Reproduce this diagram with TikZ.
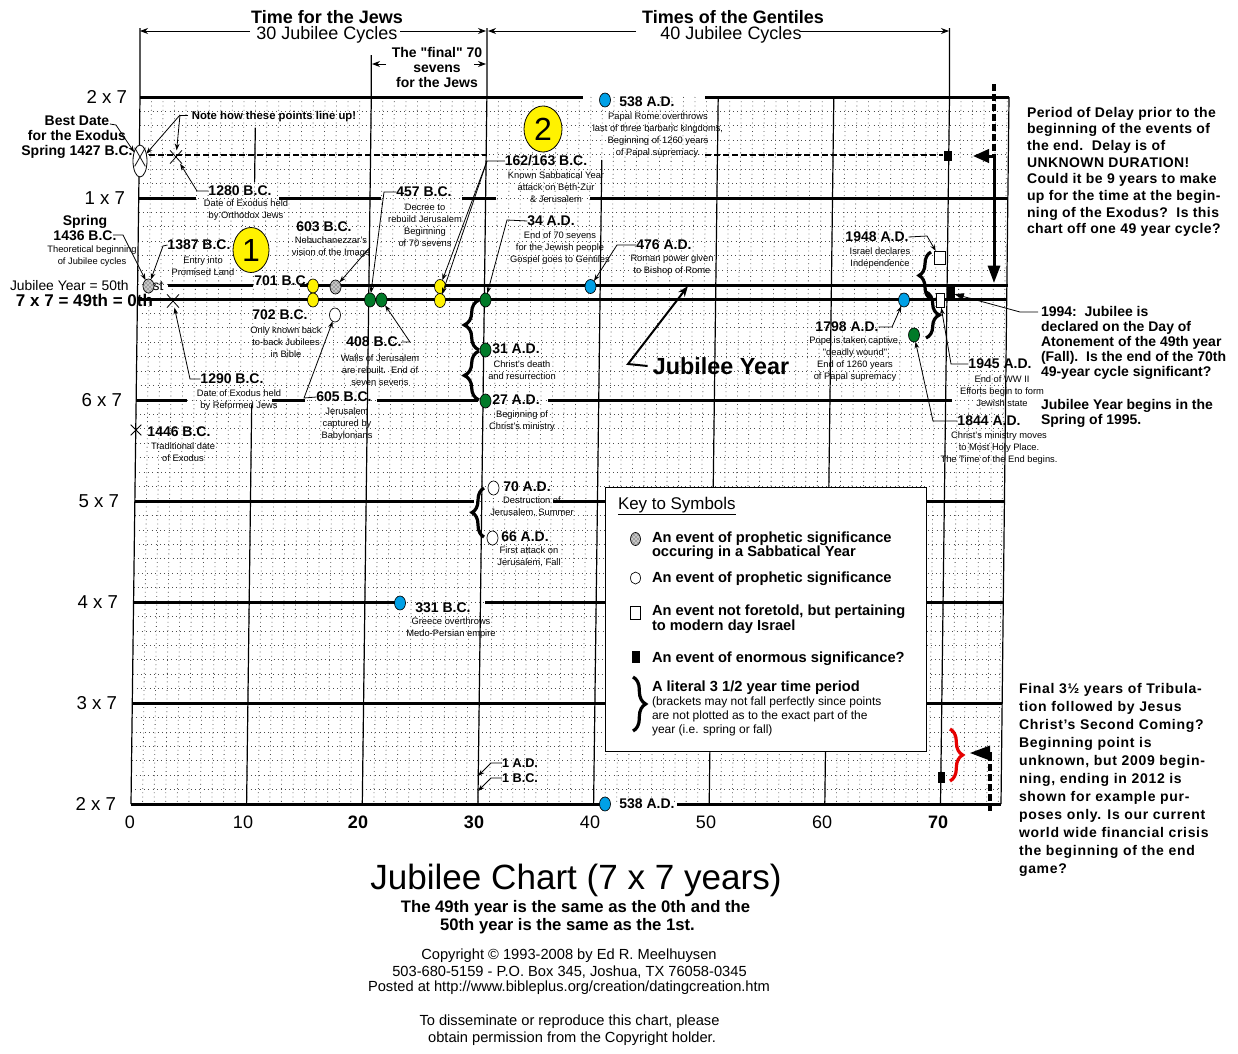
\documentclass[tikz,border=0pt]{standalone}
\usepackage{fontspec}
\setmainfont{Liberation Sans}
\usetikzlibrary{arrows.meta,decorations.pathreplacing,shapes.geometric,shapes.misc,patterns}
\definecolor{jcgreen}{RGB}{0,122,40}
\definecolor{jcblue}{RGB}{0,160,230}
\definecolor{jcred}{RGB}{230,0,0}
\newcommand\jcB{\fontsize{10.5}{12}\selectfont\bfseries}
\newcommand\jcS{\fontsize{7}{9}\selectfont}
\begin{document}
\begin{tikzpicture}[x=0.75pt,y=-0.75pt,
  every node/.style={inner sep=0pt, outer sep=0pt},
  lbl/.style={font=\jcB},
  dsc/.style={font=\jcS, align=center},
  gridd/.style={line width=0.6pt, dash pattern=on 0.6pt off 2.6pt, black!70},
  majv/.style={line width=0.9pt},
  majh/.style={line width=2.25pt},
  mk/.style={ellipse, draw, line width=0.5pt, minimum width=8.25pt, minimum height=10.5pt},
  yel/.style={mk, fill=yellow},
  grn/.style={mk, fill=jcgreen},
  blu/.style={mk, fill=jcblue},
  opn/.style={mk, fill=white},
  hat/.style={mk, preaction={fill=black!22}, pattern=crosshatch dots, pattern color=black!85},
  xm/.style={cross out, draw, line width=0.6pt, minimum width=9pt, minimum height=10pt},
  osq/.style={rectangle, draw, fill=white, line width=0.6pt},
  bsq/.style={rectangle, fill=black},
  lead/.style={line width=0.6pt, -{Stealth[length=5pt,width=3.5pt]}},
  hdr/.style={line width=0.75pt, -{Stealth[length=6pt,width=4.5pt]}},
  brc/.style={decorate, decoration={brace, amplitude=#1}, line width=2.4pt},
  brc/.default=10pt,
  rtxt/.style={align=left, anchor=north west},
  axl/.style={font=\fontsize{14}{16}\selectfont, anchor=east},
  axn/.style={font=\fontsize{13.5}{16}\selectfont},
  axb/.style={font=\fontsize{13.5}{16}\selectfont\bfseries},
  keyt/.style={font=\fontsize{11}{10.8}\selectfont\bfseries, align=left, anchor=west},
]
\fill[white] (0,0) rectangle (1238,1053);
\useasboundingbox (0,0) rectangle (1238,1053);
% ---------- grid ----------
\foreach \i in {1,...,75}{\draw[gridd] ({140+11.564*\i},97) -- ({131+11.564*\i},804);}
\foreach \j in {1,...,48}{\draw[gridd] ({140-0.1837*\j},{97+14.43*\j}) -- ({1009-0.1633*\j},{97+14.43*\j});}
\draw[majv] (140,28) -- (140,97) -- (131,804);
\draw[majv] (255.3,128) -- (254.6,182);
\draw[majv] (251.7,405) -- (246.6,804);
\draw[majv] (371.3,55) -- (371.3,97) -- (362.3,804);
\draw[majv] (486.9,28) -- (486.9,97) -- (477.9,804);
\draw[majv] (601.8,160) -- (593.6,804);
\draw[majv] (718.2,97) -- (709.2,804);
\draw[majv] (833.8,97) -- (824.8,804);
\draw[majv] (949.5,28) -- (949.5,97) -- (940.5,804);
\draw[majv] (1009,97) -- (1001,804);
\draw[majh] (140,97) -- (583,97) (705,97) -- (1009,97);
\draw[majh] (139,198) -- (196,198) (279,198) -- (381,198) (462,198) -- (496,198) (590,198) -- (1008,198);
\draw[majh] (168,285) -- (253,285) (300,285) -- (1008,285);
\draw[majh] (137,299) -- (1007,299);
\draw[majh] (136,400) -- (187,400) (272,400) -- (305,400) (377,400) -- (478,400) (548,400) -- (952,400);
\draw[majh] (135,501) -- (474,501) (553,501) -- (605,501) (926,501) -- (1004,501);
\draw[majh] (134,602) -- (395,602) (485,602) -- (605,602) (926,602) -- (1003,602);
\draw[majh] (133,703) -- (605,703) (926,703) -- (1002,703);
\draw[majh] (131,804) -- (600,804) (677,804) -- (1001,804);
\draw[line width=1.6pt, dash pattern=on 4.5pt off 2.25pt] (140,155) -- (487,155) (705,155) -- (943,155);
% ---------- key box ----------
\node[draw, fill=white, line width=0.75pt, minimum width=240.75pt, minimum height=198pt, anchor=north west] (key) at (605,487) {};
% ---------- header ----------
\node[font=\fontsize{13.5}{16}\selectfont\bfseries] (h1) at (327,17) {Time for the Jews};
\node[font=\fontsize{13.5}{16}\selectfont] (h2) at (327,35) {30 Jubilee Cycles};
\node[font=\fontsize{13.5}{16}\selectfont\bfseries] (h3) at (733,17) {Times of the Gentiles};
\node[font=\fontsize{13.5}{16}\selectfont] (h4) at (731,35) {40 Jubilee Cycles};
\node[font=\fontsize{10.5}{11.25}\selectfont\bfseries, align=center] (h5) at (437,67) {The \textquotedbl final\textquotedbl\ 70\\sevens\\for the Jews};
\coordinate (hA) at (140,31); \coordinate (hB) at (486,31); \coordinate (hC) at (488,31); \coordinate (hD) at (949,31);
\coordinate (hE) at (372,64); \coordinate (hF) at (486,64);
\draw[hdr] (250,31) -- (hA);
\draw[hdr] (400,31) -- (hB);
\draw[hdr] (636,31) -- (hC);
\draw[hdr] (800,31) -- (hD);
\draw[hdr] (386,64) -- (hE);
\draw[hdr] (474,64) -- (hF);
% ---------- axes ----------
\node[axl] (a1) at (127,97) {2 x 7};
\node[axl] (a2) at (125,198) {1 x 7};
\node[axl] (a3) at (122,400) {6 x 7};
\node[axl] (a4) at (119,501) {5 x 7};
\node[axl] (a5) at (118,602) {4 x 7};
\node[axl] (a6) at (117,703) {3 x 7};
\node[axl] (a7) at (116,804) {2 x 7};
\node[axn] (n0) at (130,822) {0};
\node[axn] (n10) at (243,822) {10};
\node[axb] (n20) at (358,822) {20};
\node[axb] (n30) at (474,822) {30};
\node[axn] (n40) at (590,822) {40};
\node[axn] (n50) at (706,822) {50};
\node[axn] (n60) at (822,822) {60};
\node[axb] (n70) at (938,822) {70};
\node[font=\fontsize{10.4}{12}\selectfont, anchor=west] (jy50) at (10,286) {Jubilee Year = 50th};
\node[font=\fontsize{12.75}{14}\selectfont\bfseries, anchor=west] (jy49) at (16,300) {7 x 7 = 49th = 0th};
% ---------- markers ----------
\node[font=\fontsize{10.4}{12}\selectfont, anchor=west] (jy1) at (145,286) {1st};
\node[hat] (e1436) at (148.5,286) {};
\node[ellipse, draw, fill=white, line width=0.6pt, minimum width=10.5pt, minimum height=24pt] (e1427) at (140,161) {};
\node[cross out, draw, line width=0.6pt, minimum width=8pt, minimum height=14pt] (x1427) at (140,157) {};
\node[xm] (x1280) at (176,157) {};
\node[xm] (x1290) at (173,301) {};
\node[xm, minimum width=8pt, minimum height=8pt] (x1446) at (136,430) {};
\node[ellipse, draw, fill=yellow, line width=0.6pt, minimum width=27pt, minimum height=33.75pt, font=\fontsize{24}{24}\selectfont] (c1) at (251,250) {1};
\node[ellipse, draw, fill=yellow, line width=0.6pt, minimum width=28.5pt, minimum height=34.5pt, font=\fontsize{24}{24}\selectfont] (c2) at (543,129) {2};
\node[yel] (y701) at (313,286) {};
\node[yel] (y702) at (313,300) {};
\node[hat] (e603) at (335.5,287) {};
\node[opn] (o605) at (335,315) {};
\node[grn] (g457) at (370,300) {};
\node[grn] (g408) at (381.5,300) {};
\node[yel] (y162) at (440,286.5) {};
\node[yel] (y163) at (440,300.5) {};
\node[grn] (g34) at (485.5,300) {};
\node[grn] (g31) at (485.5,350) {};
\node[grn] (g27) at (485.5,401) {};
\node[blu] (b476) at (590.5,286.5) {};
\node[blu] (b538t) at (605,100) {};
\node[opn] (o70) at (493.5,488) {};
\node[opn] (o66) at (492.5,538) {};
\node[blu] (b331) at (400,603) {};
\node[blu] (b538b) at (605,804) {};
\node[blu] (b1798) at (904,300) {};
\node[grn] (g1844) at (914,335) {};
\node[osq, minimum width=8.25pt, minimum height=9.75pt] (s1948) at (939.5,257.5) {};
\node[osq, minimum width=6pt, minimum height=11pt] (s1945) at (940,300.5) {};
\node[bsq, minimum width=6pt, minimum height=9pt] (q1994) at (950.5,293) {};
\node[bsq, minimum width=6pt, minimum height=8pt] (qdel) at (948,156) {};
\node[bsq, minimum width=5.25pt, minimum height=8.25pt] (qend) at (941.5,777.5) {};
% ---------- labels ----------
\node[font=\fontsize{10.5}{11.25}\selectfont\bfseries, align=center] (bd) at (77,137) {Best Date\\for the Exodus\\Spring 1427 B.C.};
\node[font=\fontsize{8.5}{10}\selectfont\bfseries] (nt) at (274,117) {Note how these points line up!};
\node[font=\fontsize{10.5}{11.25}\selectfont\bfseries, align=center] (l1436) at (85,228) {Spring\\1436 B.C.};
\node[dsc] (d1436) at (92,256) {Theoretical beginning\\of Jubilee cycles};
\node[lbl] (l1387) at (199,245) {1387 B.C.};
\node[dsc] (d1387) at (203,266) {Entry into\\Promised Land};
\node[lbl] (l1280) at (240,191) {1280 B.C.};
\node[dsc] (d1280) at (246,210) {Date of Exodus held\\by Orthodox Jews};
\node[lbl] (l603) at (324,227) {603 B.C.};
\node[dsc] (d603) at (331,247) {Nebuchanezzar's\\vision of the Image};
\node[lbl] (l701) at (282,281) {701 B.C.};
\node[lbl] (l702) at (280,315) {702 B.C.};
\node[dsc] (d702) at (286,342) {Only known back\\to-back Jubilees\\in Bible};
\node[lbl] (l605) at (344,397) {605 B.C.};
\node[dsc] (d605) at (347,424) {Jerusalem\\captured by\\Babylonians};
\node[lbl] (l408) at (374,342) {408 B.C.};
\node[dsc] (d408) at (380,370) {Walls of Jerusalem\\are rebuilt.\ \ End of\\seven sevens};
\node[lbl] (l457) at (424,192) {457 B.C.};
\node[dsc] (d457) at (425,225) {Decree to\\rebuild Jerusalem\\Beginning\\of 70 sevens};
\node[lbl] (l162) at (546,161) {162/163 B.C.};
\node[dsc] (d162) at (556,187) {Known Sabbatical Year\\attack on Beth-Zur\\\& Jerusalem};
\node[lbl] (l538t) at (647,102) {538 A.D.};
\node[dsc] (d538t) at (658,135) {Papal Rome overthrows\\last of three barbaric kingdoms,\\Beginning of 1260 years\\of Papal supremacy.};
\node[lbl] (l34) at (551,221) {34 A.D.};
\node[dsc] (d34) at (560,248) {End of 70 sevens\\for the Jewish people\\Gospel goes to Gentiles};
\node[lbl] (l476) at (664,245) {476 A.D.};
\node[dsc] (d476) at (672,265) {Roman power given\\to Bishop of Rome};
\node[font=\fontsize{17.5}{20}\selectfont\bfseries, inner sep=4pt] (jy) at (721,366) {Jubilee Year};
\node[lbl] (l31) at (516,349) {31 A.D.};
\node[dsc] (d31) at (522,370) {Christ's death\\and resurrection};
\node[lbl] (l27) at (516,400) {27 A.D.};
\node[dsc] (d27) at (522,421) {Beginning of\\Christ's ministry};
\node[lbl] (l70) at (527,487) {70 A.D.};
\node[dsc] (d70) at (532,507) {Destruction of\\Jerusalem, Summer};
\node[lbl] (l66) at (525,537) {66 A.D.};
\node[dsc] (d66) at (529,557) {First attack on\\Jerusalem, Fall};
\node[lbl] (l331) at (443,608) {331 B.C.};
\node[dsc] (d331) at (451,628) {Greece overthrows\\Medo-Persian empire};
\node[font=\fontsize{9.5}{11}\selectfont\bfseries] (l1ad) at (520,763) {1 A.D.};
\node[font=\fontsize{9.5}{11}\selectfont\bfseries] (l1bc) at (520,778) {1 B.C.};
\node[lbl] (l538b) at (647,804) {538 A.D.};
\node[lbl] (l1290) at (232,379) {1290 B.C.};
\node[dsc] (d1290) at (239,400) {Date of Exodus held\\by Reformed Jews};
\node[lbl] (l1446) at (179,432) {1446 B.C.};
\node[dsc] (d1446) at (183,452) {Traditional date\\of Exodus};
\node[lbl] (l1798) at (847,327) {1798 A.D.};
\node[dsc] (d1798) at (855,359) {Pope is taken captive,\\\textquotedbl deadly wound\textquotedbl\\End of 1260 years\\of Papal supremacy};
\node[lbl] (l1844) at (989,421) {1844 A.D.};
\node[dsc] (d1844) at (999,448) {Christ's ministry moves\\to Most Holy Place.\\The Time of the End begins.};
\node[lbl] (l1945) at (1000,364) {1945 A.D.};
\node[dsc] (d1945) at (1002,391) {End of WW II\\Efforts begin to form\\Jewish state};
\node[lbl] (l1948) at (877,237) {1948 A.D.};
\node[dsc] (d1948) at (880,258) {Israel declares\\Independence};
% ---------- right texts ----------
\node[rtxt, font=\fontsize{10.5}{12.5}\selectfont\bfseries\addfontfeatures{LetterSpace=3}] (rt1) at (1027,107) {Period of Delay prior to the\\beginning of the events of\\the end.\ \ Delay is of\\UNKNOWN DURATION!\\Could it be 9 years to make\\up for the time at the begin-\\ning of the Exodus?\ \ Is this\\chart off one 49 year cycle?};
\node[rtxt, font=\fontsize{10.5}{11.4}\selectfont\bfseries] (rt2) at (1041,306) {1994:\ \ Jubilee is\\declared on the Day of\\Atonement of the 49th year\\(Fall).\ \ Is the end of the 70th\\49-year cycle significant?};
\node[rtxt, font=\fontsize{10.5}{11.25}\selectfont\bfseries] (rt3) at (1041,399) {Jubilee Year begins in the\\Spring of 1995.};
\node[rtxt, font=\fontsize{10.5}{13.5}\selectfont\bfseries\addfontfeatures{LetterSpace=5}] (rt4) at (1019,683) {Final 3½ years of Tribula-\\tion followed by Jesus\\Christ's Second Coming?\\Beginning point is\\unknown, but 2009 begin-\\ning, ending in 2012 is\\shown for example pur-\\poses only. Is our current\\world wide financial crisis\\the beginning of the end\\game?};
% ---------- key contents ----------
\node[font=\fontsize{12.7}{14}\selectfont, anchor=west] (kt) at (618,506) {\underline{Key to Symbols}};
\node[hat, minimum width=7.5pt, minimum height=9.75pt] (k1) at (635.5,539) {};
\node[opn, minimum width=7.5pt, minimum height=9pt] (k2) at (635.5,578) {};
\node[osq, minimum width=7.5pt, minimum height=9.5pt] (k3) at (635.5,613) {};
\node[bsq, minimum width=6.5pt, minimum height=9pt] (k4) at (636,657) {};
\node[keyt] (kx1) at (652,545.5) {An event of prophetic significance\\occuring in a Sabbatical Year};
\node[keyt] (kx2) at (652,579) {An event of prophetic significance};
\node[keyt] (kx3) at (652,619) {An event not foretold, but pertaining\\to modern day Israel};
\node[keyt] (kx4) at (652,659) {An event of enormous significance?};
\node[keyt] (kx5) at (652,688) {A literal 3 1/2 year time period};
\node[font=\fontsize{9}{10.6}\selectfont, align=left, anchor=west] (kx6) at (652,716.5) {(brackets may not fall perfectly since points\\are not plotted as to the exact part of the\\year (i.e. spring or fall)};
% ---------- bottom titles ----------
\node[font=\fontsize{26.3}{30}\selectfont] (title) at (576,880) {Jubilee Chart (7 x 7 years)};
\node[font=\fontsize{12.5}{14}\selectfont\bfseries] (sub1) at (575.5,908) {The 49th year is the same as the 0th and the};
\node[font=\fontsize{12.5}{14}\selectfont\bfseries] (sub2) at (567.5,926) {50th year is the same as the 1st.};
\node[font=\fontsize{11}{13}\selectfont] (cp1) at (569,956) {Copyright © 1993-2008 by Ed R. Meelhuysen};
\node[font=\fontsize{11}{13}\selectfont] (cp2) at (569.5,972.5) {503-680-5159 - P.O. Box 345, Joshua, TX 76058-0345};
\node[font=\fontsize{11}{13}\selectfont] (cp3) at (569,988) {Posted at http://www.bibleplus.org/creation/datingcreation.htm};
\node[font=\fontsize{11}{13}\selectfont] (cp4) at (569.5,1022) {To disseminate or reproduce this chart, please};
\node[font=\fontsize{11}{13}\selectfont] (cp5) at (572,1038.5) {obtain permission from the Copyright holder.};
% ---------- braces ----------
\draw[brc=11pt] (479,350) -- (479,300);
\draw[brc=11pt] (479,400) -- (479,351);
\draw[brc=9pt] (484,537) -- (484,488);
\draw[brc=9pt] (931,299) -- (931,252);
\draw[brc=10pt] (926,292) -- (926,338);
\draw[brc=9.5pt, jcred] (950,729) -- (950,781);
\draw[brc=9.5pt] (633,677) -- (633,731);
% ---------- leaders ----------
\draw[lead] (110,124) -- (116,125) -- (e1427);
\draw[line width=0.6pt] (188,115) -- (180,115);
\draw[lead] (180,115) -- (e1427);
\draw[lead] (180,115) -- (x1280);
\draw[lead] (l1280.west) -- (197,191) -- (x1280);
\draw[lead] (113,235) -- (123,235) -- (e1436);
\draw[lead] (l1387.west) -- (163,246) -- (e1436);
\draw[lead] (d603.east) -- (e603);
\draw[lead] (l605.west) -- (304,398) -- (o605);
\draw[lead] (l408.east) -- (410,342) -- (g408);
\draw[lead] (l457.west) -- (384,192) -- (g457);
\draw[lead] (l162.west) -- (487,161) -- (y162);
\draw[lead] (487,161) -- (y163);
\draw[lead] (l34.west) -- (507,220) -- (g34);
\draw[lead] (l476.west) -- (617,245) -- (b476);
\coordinate (jyt) at (688,286);
\draw[line width=1.5pt, -{Stealth[length=8pt,width=6pt]}] (jy.west) -- (628,364) -- (jyt);
\draw[lead] (l1290.west) -- (190,379) -- (x1290);
\coordinate (c1ad) at (478,776); \coordinate (c1bc) at (478,791);
\draw[lead] (l1ad.west) -- (491,763) -- (c1ad);
\draw[lead] (l1bc.west) -- (491,778) -- (c1bc);
\draw[lead] (l1798.east) -- (892,327) -- (b1798);
\draw[lead] (l1844.west) -- (933,421) -- (g1844);
\draw[lead] (l1945.west) -- (951,364) -- (s1945);
\draw[lead] (l1948.east) -- (927,236) -- (s1948);
\coordinate (c1994) at (1038,312);
\draw[line width=0.6pt, -{Triangle[length=7pt,width=5pt]}] (c1994) -- (1020,312) -- (q1994);
% ---------- thick delay arrows ----------
\coordinate (dA) at (994,84); \coordinate (dB) at (994,156); \coordinate (dC) at (973,156); \coordinate (dD) at (994,283);
\draw[line width=3pt, dash pattern=on 5pt off 2.5pt] (dA) -- (dB);
\draw[line width=2.25pt, -{Triangle[length=12pt,width=10pt]}] (dB) -- (dC);
\draw[line width=2.25pt, -{Triangle[length=13pt,width=9pt]}] (dB) -- (dD);
\coordinate (eA) at (990,811); \coordinate (eB) at (990,753); \coordinate (eC) at (970,753);
\draw[line width=3pt, dash pattern=on 5pt off 2.5pt] (eA) -- (eB);
\draw[line width=1pt, -{Triangle[length=15pt,width=11pt]}] (992,753) -- (eC);
\end{tikzpicture}
\end{document}
